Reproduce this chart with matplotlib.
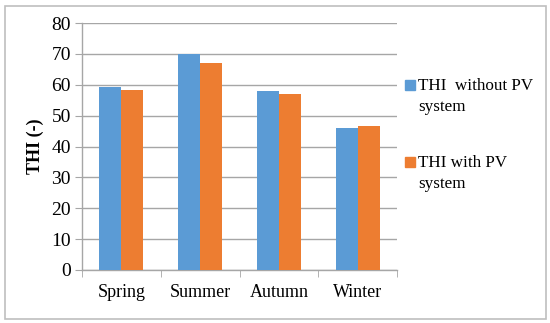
import numpy as np
import matplotlib.pyplot as plt
from matplotlib.patches import Rectangle

plt.rcParams['font.family'] = ['Liberation Serif', 'DejaVu Serif']

seasons = ['Spring', 'Summer', 'Autumn', 'Winter']
thi_without_pv = [59.3, 70.0, 58.0, 46.0]
thi_with_pv = [58.3, 67.0, 57.0, 46.5]
yticks = [0, 10, 20, 30, 40, 50, 60, 70, 80]
labels = ['THI  without PV\nsystem', 'THI with PV\nsystem']

blue = '#5B9BD5'
orange = '#ED7D31'
gray = '#A6A6A6'

fig = plt.figure(figsize=(5.5, 3.23), dpi=100)
ax = fig.add_axes([82 / 550, 1 - 270 / 323, 315 / 550, 247 / 323])

x = np.arange(len(seasons))
w = 0.28
ax.bar(x - w / 2, thi_without_pv, w, color=blue, zorder=3)
ax.bar(x + w / 2, thi_with_pv, w, color=orange, zorder=3)

ax.set_xlim(-0.5, len(seasons) - 0.5)
ax.set_ylim(0, 80)
ax.set_yticks(yticks)
ax.yaxis.grid(True, color=gray, linewidth=1, zorder=0)
ax.set_axisbelow(True)

# category ticks sit between the groups
ax.set_xticks(x)
ax.set_xticklabels(seasons, fontsize=13)
ax.tick_params(axis='x', length=0, pad=10)
ax.set_xticks(np.arange(-0.5, len(seasons)), minor=True)
ax.tick_params(axis='x', which='minor', length=5, color=gray, direction='out')
ax.tick_params(axis='y', length=5, color=gray, labelsize=14, pad=3)

for s in ['top', 'right']:
    ax.spines[s].set_visible(False)
for s in ['left', 'bottom']:
    ax.spines[s].set_color(gray)
    ax.spines[s].set_linewidth(1)

ax.set_ylabel('THI (-)', fontsize=13, fontweight='bold', labelpad=5)

# legend like excel: marker next to the first line of a wrapped label
for i, (lab, col) in enumerate(zip(labels, [blue, orange])):
    yc = 1 - (85 + i * 77) / 323
    fig.patches.append(Rectangle((405 / 550, yc - 5 / 323), 10 / 550, 10 / 323,
                                 transform=fig.transFigure, color=col))
    fig.text(418 / 550, yc + 7 / 323, lab, fontsize=12.3, va='top', ha='left',
             linespacing=1.45)

fig.patches.append(Rectangle((5 / 550, 4 / 323), 541 / 550, 313 / 323,
                             transform=fig.transFigure, fill=False,
                             edgecolor='#BFBFBF', linewidth=1.2))

fig.savefig('out.png', dpi=100)
